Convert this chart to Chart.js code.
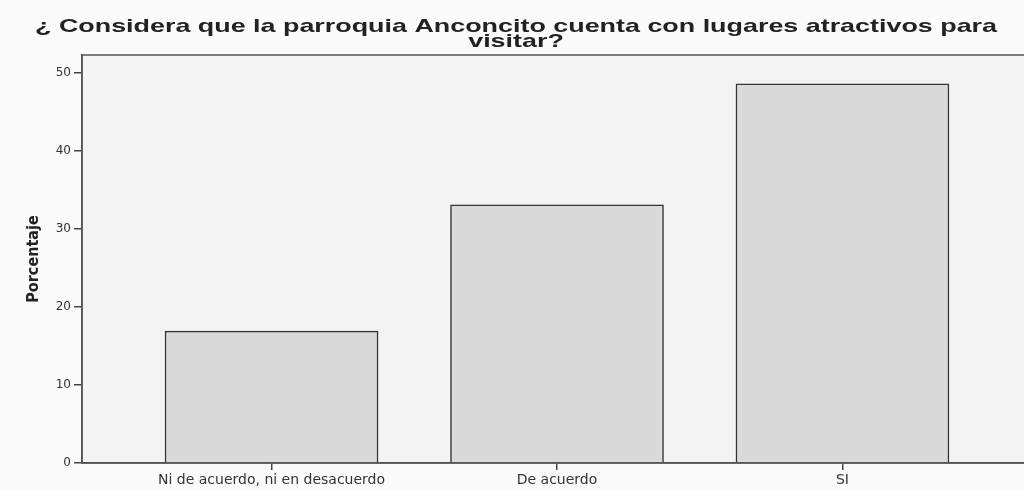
<!DOCTYPE html>
<html>
<head>
<meta charset="utf-8">
<script src="https://cdn.jsdelivr.net/npm/chart.js@4"></script>
<style>
  html, body { margin: 0; padding: 0; background: #fbfbfb; overflow: hidden; }
  #wrap { width: 1040px; height: 490px; }
</style>
</head>
<body>
<div id="wrap"><canvas id="bar-chart"></canvas></div>
<script>
// data
const categories = ["Ni de acuerdo, ni en desacuerdo", "De acuerdo", "SI"];
const percentages = [16.9, 33.1, 48.6];
const yTicks = [0, 10, 20, 30, 40, 50];
const titleLines = ["¿ Considera que la parroquia Anconcito cuenta con lugares atractivos para", "visitar?"];

// frame, light plot background and the (horizontally stretched) title
const framePlugin = {
  id: 'frame',
  beforeDraw(chart) {
    const a = chart.chartArea, ctx = chart.ctx;
    ctx.save();
    ctx.fillStyle = '#f3f3f3';
    ctx.fillRect(a.left, a.top, a.right - a.left, a.bottom - a.top);
    ctx.restore();
  },
  afterDraw(chart) {
    const a = chart.chartArea, ctx = chart.ctx;
    ctx.save();
    ctx.strokeStyle = '#555';
    ctx.lineWidth = 1.5;
    ctx.strokeRect(a.left, a.top, a.right - a.left, a.bottom - a.top);

    ctx.fillStyle = '#222';
    ctx.font = 'bold 19px "Liberation Sans", Arial, sans-serif';
    ctx.textAlign = 'center';
    ctx.textBaseline = 'middle';
    const sx = 962 / ctx.measureText(titleLines[0]).width;
    ctx.translate(516, 0);
    ctx.scale(sx, 1);
    ctx.fillText(titleLines[0], 0, 27);
    ctx.fillText(titleLines[1], 0, 42);
    ctx.restore();
  }
};

new Chart(document.getElementById("bar-chart"), {
  type: 'bar',
  data: {
    datasets: [{
      data: percentages.map((v, i) => ({ x: i, y: v })),
      backgroundColor: "#dadada",
      borderColor: "#333",
      borderWidth: 1.5,
      barThickness: 213
    }]
  },
  options: {
    responsive: true,
    maintainAspectRatio: false,
    animation: false,
    layout: { padding: { top: 55 } },
    plugins: {
      legend: { display: false },
      tooltip: { enabled: false }
    },
    scales: {
      x: {
        type: 'linear',
        offset: false,
        min: -0.664,
        max: 2.692,
        afterFit: s => { s.height = 27; },
        afterBuildTicks: s => { s.ticks = categories.map((c, i) => ({ value: i })); },
        ticks: {
          color: '#333',
          font: { family: 'DejaVu Sans', size: 14 },
          padding: 2,
          maxRotation: 0,
          callback: v => categories[v]
        },
        grid: { offset: false, drawOnChartArea: false, tickLength: 7, color: '#444', lineWidth: 1.5 },
        border: { color: '#444', width: 1.5 }
      },
      y: {
        min: 0,
        max: 52.3,
        afterFit: s => { s.width = 82; },
        afterBuildTicks: s => { s.ticks = yTicks.map(v => ({ value: v })); },
        ticks: { color: '#333', font: { family: 'DejaVu Sans', size: 12 }, padding: 3 },
        grid: { drawOnChartArea: false, tickLength: 8, color: '#444', lineWidth: 1.5 },
        border: { color: '#444', width: 1.5 },
        title: {
          display: true,
          text: 'Porcentaje',
          color: '#222',
          font: { family: 'DejaVu Sans Condensed', size: 16, weight: 'bold' },
          padding: { top: 24, bottom: 0 }
        }
      }
    }
  },
  plugins: [framePlugin]
});
</script>
</body>
</html>
